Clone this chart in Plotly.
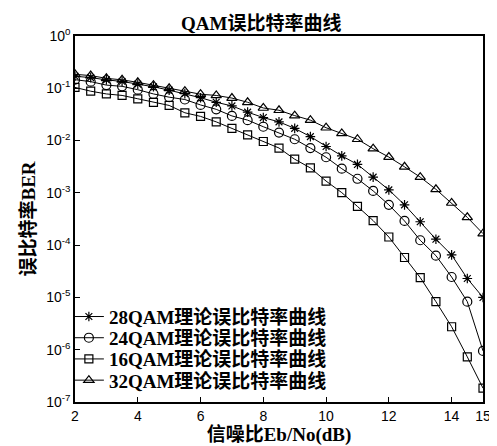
import plotly.graph_objects as go

snr_db = [2, 2.5, 3, 3.5, 4, 4.5, 5, 5.5, 6, 6.5, 7, 7.5, 8, 8.5, 9, 9.5,
          10, 10.5, 11, 11.5, 12, 12.5, 13, 13.5, 14, 14.5, 15]

ber_28qam = [0.17, 0.16, 0.145, 0.135, 0.12, 0.107, 0.092, 0.079, 0.066,
             0.054, 0.046, 0.035, 0.0275, 0.0228, 0.0171, 0.0119, 0.0077,
             0.0051, 0.0035, 0.0020, 0.00114, 5.9e-4, 2.8e-4, 1.3e-4, 6.5e-5,
             2.3e-5, 1.0e-5]
ber_24qam = [0.146, 0.134, 0.115, 0.109, 0.094, 0.078, 0.0676, 0.061, 0.048,
             0.0396, 0.0296, 0.0246, 0.0184, 0.0142, 0.0106, 0.0072, 0.0048,
             0.0029, 0.00186, 0.00109, 5.9e-4, 2.9e-4, 1.24e-4, 6.3e-5, 2.46e-5,
             8.3e-6, 9.5e-7]
ber_16qam = [0.104, 0.088, 0.078, 0.073, 0.063, 0.054, 0.047, 0.034, 0.029,
             0.0228, 0.0171, 0.0128, 0.0096, 0.0072, 0.0044, 0.0030, 0.00168,
             1.01e-3, 5.5e-4, 2.95e-4, 1.43e-4, 5.8e-5, 2.4e-5, 8.3e-6, 2.75e-6,
             7.3e-7, 1.84e-7]
ber_32qam = [0.185, 0.175, 0.155, 0.145, 0.13, 0.115, 0.1, 0.088, 0.077,
             0.073, 0.065, 0.054, 0.042, 0.038, 0.030, 0.0246, 0.0176,
             0.0137, 0.0106, 0.0070, 0.00484, 0.00315, 0.0020, 0.00117, 6.4e-4,
             3.4e-4, 1.66e-4]

series_names = ["28QAM理论误比特率曲线", "24QAM理论误比特率曲线",
                "16QAM理论误比特率曲线", "32QAM理论误比特率曲线"]

x_tick_vals = [2, 4, 6, 8, 10, 12, 14, 15]
x_tick_text = ["2", "4", "6", "8", "10", "12", "14", "15"]
y_tick_vals = [1, 1e-1, 1e-2, 1e-3, 1e-4, 1e-5, 1e-6, 1e-7]
y_tick_text = ["10<sup>0</sup>", "10<sup>-1</sup>", "10<sup>-2</sup>", "10<sup>-3</sup>",
               "10<sup>-4</sup>", "10<sup>-5</sup>", "10<sup>-6</sup>", "10<sup>-7</sup>"]

title_text = "QAM误比特率曲线"
x_title = "信噪比Eb/No(dB)"
y_title = "误比特率BER"

serif = "Liberation Serif, Times New Roman, Noto Sans CJK SC, serif"
sans = "Liberation Sans, Arial, sans-serif"

styles = [
    dict(symbol="asterisk-open", size=8),
    dict(symbol="circle-open", size=9),
    dict(symbol="square-open", size=8),
    dict(symbol="triangle-up-open", size=9),
]
data = [ber_28qam, ber_24qam, ber_16qam, ber_32qam]
legend_ids = ["legend", "legend2", "legend3", "legend4"]

# plot area: top 28 px, bottom 399 px (height 371)
row_centers_px = [312.5, 334, 355.5, 377]

fig = go.Figure()
for name, ys, st, lid in zip(series_names, data, styles, legend_ids):
    fig.add_trace(go.Scatter(
        x=snr_db, y=ys, name=name, mode="lines+markers",
        line=dict(color="black", width=1),
        marker=dict(symbol=st["symbol"], size=st["size"], color="black",
                    line=dict(color="black", width=1.2)),
        legend=lid,
    ))

legend_common = dict(x=-0.015, xanchor="left", yanchor="middle",
                     bgcolor="rgba(0,0,0,0)", borderwidth=0,
                     font=dict(family=serif, size=19, color="black", weight="bold"),
                     itemwidth=30)
layout_legends = {}
for lid, yc in zip(legend_ids, row_centers_px):
    layout_legends[lid] = dict(legend_common, y=(399 - yc) / 371)

fig.update_layout(
    width=497, height=446,
    margin=dict(l=67, r=22, t=28, b=47),
    paper_bgcolor="white", plot_bgcolor="white",
    title=dict(text="<b>" + title_text + "</b>", x=173 / 497, xanchor="left",
               y=1 - 15 / 446, yanchor="middle",
               font=dict(family=serif, size=19, color="black")),
    showlegend=True,
    **layout_legends,
)
fig.update_xaxes(
    range=[2, 15], tickvals=x_tick_vals, ticktext=x_tick_text,
    ticks="inside", ticklen=5, tickwidth=1, tickcolor="black",
    showline=True, linecolor="black", linewidth=1.5, mirror=True,
    showgrid=False, zeroline=False,
    tickfont=dict(family=sans, size=14, color="black"),
    title=dict(text="<b>" + x_title + "</b>",
               font=dict(family=serif, size=19, color="black"), standoff=5),
)
fig.update_yaxes(
    type="log", range=[-7, 0], tickvals=y_tick_vals, ticktext=y_tick_text,
    ticks="inside", ticklen=5, tickwidth=1, tickcolor="black",
    showline=True, linecolor="black", linewidth=1.5, mirror=True,
    showgrid=False, zeroline=False,
    tickfont=dict(family=sans, size=14, color="black"),
    title=dict(text="<b>" + y_title + "</b>",
               font=dict(family=serif, size=19, color="black"), standoff=6),
)

fig.write_html("out.html")
